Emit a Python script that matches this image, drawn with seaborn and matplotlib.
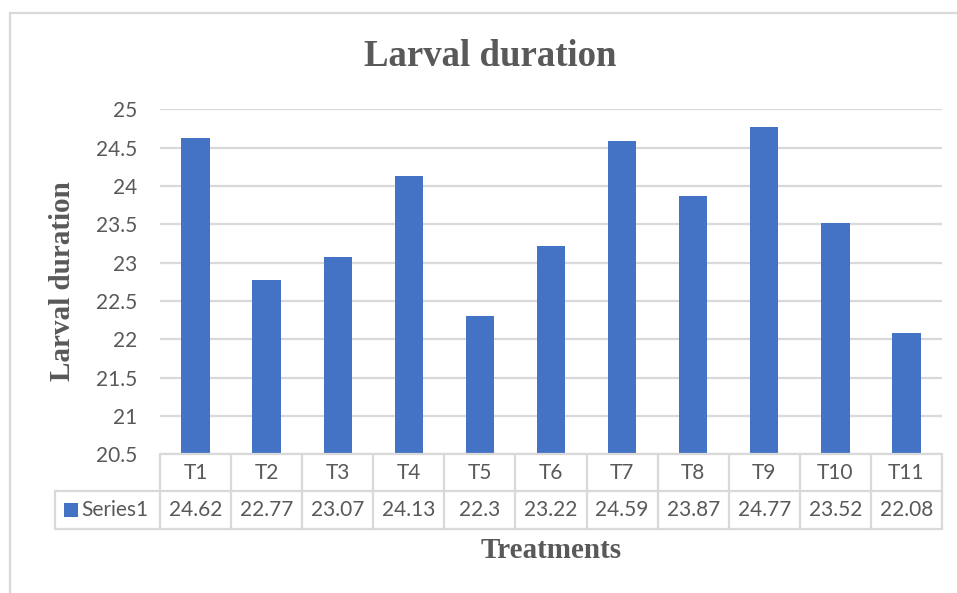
import matplotlib
matplotlib.use("Agg")
import matplotlib.pyplot as plt
import seaborn as sns
import pandas as pd
from matplotlib.transforms import blended_transform_factory
from matplotlib.lines import Line2D
from matplotlib.patches import Rectangle

# ---- data ----
categories = ["T1", "T2", "T3", "T4", "T5", "T6", "T7", "T8", "T9", "T10", "T11"]
values = [24.62, 22.77, 23.07, 24.13, 22.3, 23.22, 24.59, 23.87, 24.77, 23.52, 22.08]
value_labels = ["24.62", "22.77", "23.07", "24.13", "22.3", "23.22", "24.59", "23.87", "24.77", "23.52", "22.08"]
series_name = "Series1"
y_ticks = [20.5, 21, 21.5, 22, 22.5, 23, 23.5, 24, 24.5, 25]
y_tick_labels = ["20.5", "21", "21.5", "22", "22.5", "23", "23.5", "24", "24.5", "25"]
title = "Larval duration"
y_label = "Larval duration"
x_label = "Treatments"

BAR = "#4472C4"
TXT = "#595959"
GRID = "#D9D9D9"

sns.set_theme(style="white")
plt.rcParams["font.family"] = ["Lato", "DejaVu Sans"]

W, H = 957, 593
fig = plt.figure(figsize=(W / 100, H / 100), dpi=100)
ax_left, ax_right, ax_top, ax_bottom = 160, 942, 109.3, 454.3
ax = fig.add_axes([ax_left / W, 1 - ax_bottom / H, (ax_right - ax_left) / W, (ax_bottom - ax_top) / H])

df = pd.DataFrame({"Treatment": categories, "Value": values})
sns.barplot(data=df, x="Treatment", y="Value", color=BAR, saturation=1, width=0.4,
            linewidth=0, ax=ax)
ax.set_xlim(-0.5, len(categories) - 0.5)
ax.set_ylim(y_ticks[0], y_ticks[-1])
ax.set_yticks(y_ticks)
ax.set_yticklabels(y_tick_labels)
ax.tick_params(axis="y", length=0, pad=16.5, labelsize=15, labelcolor=TXT)
ax.set_xticks([])
ax.set_xlabel("")
ax.set_ylabel("")
for s in ax.spines.values():
    s.set_visible(False)
ax.yaxis.grid(True, color=GRID, lw=1.6)
ax.set_axisbelow(True)

# ---- data table ----
axh = ax_bottom - ax_top
axw = ax_right - ax_left
def ay(ypx):
    return (ax_bottom - ypx) / axh
def axx(xpx):
    return (xpx - ax_left) / axw

y_top, y_mid, y_bot = ay(454.3), ay(491), ay(529)
trans = blended_transform_factory(ax.transData, ax.transAxes)
lkw = dict(color=GRID, lw=1.6, clip_on=False)
# horizontal lines
ax.add_line(Line2D([axx(55), 1], [y_mid, y_mid], transform=ax.transAxes, **lkw))
ax.add_line(Line2D([axx(55), 1], [y_bot, y_bot], transform=ax.transAxes, **lkw))
ax.add_line(Line2D([0, 1], [y_top, y_top], transform=ax.transAxes, **lkw))
# vertical lines
for i in range(len(categories) + 1):
    ax.add_line(Line2D([i - 0.5, i - 0.5], [y_top, y_bot], transform=trans, **lkw))
ax.add_line(Line2D([axx(55), axx(55)], [y_mid, y_bot], transform=ax.transAxes, **lkw))

for i, (c, v) in enumerate(zip(categories, value_labels)):
    ax.text(i, ay(473), c, transform=trans, ha="center", va="center",
            fontsize=15, color=TXT, clip_on=False)
    ax.text(i, ay(510.5), v, transform=trans, ha="center", va="center",
            fontsize=15, color=TXT, clip_on=False)

ax.add_patch(Rectangle((axx(64), ay(517)), 14 / axw, 14 / axh, transform=ax.transAxes,
                       facecolor=BAR, edgecolor="none", clip_on=False))
ax.text(axx(81), ay(510.5), series_name, transform=ax.transAxes, ha="left", va="center",
        fontsize=15, color=TXT, clip_on=False)

# ---- titles ----
fig.text(490 / W, 1 - 56 / H, title, ha="center", va="center", fontsize=26.5,
         fontweight="bold", color=TXT, family=["Liberation Serif", "DejaVu Serif"])
fig.text(63 / W, 1 - 281 / H, y_label, ha="center", va="center", rotation=90, fontsize=21,
         fontweight="bold", color=TXT, family=["Liberation Serif", "DejaVu Serif"])
fig.text(551 / W, 1 - 551 / H, x_label, ha="center", va="center", fontsize=21,
         fontweight="bold", color=TXT, family=["Liberation Serif", "DejaVu Serif"])

# ---- chart border ----
fig.add_artist(Line2D([10 / W, 10 / W], [0, 1 - 13 / H], transform=fig.transFigure, color=GRID, lw=1.6))
fig.add_artist(Line2D([10 / W, 1], [1 - 13 / H, 1 - 13 / H], transform=fig.transFigure, color=GRID, lw=1.6))

fig.savefig("out.png", dpi=100, facecolor="white")
